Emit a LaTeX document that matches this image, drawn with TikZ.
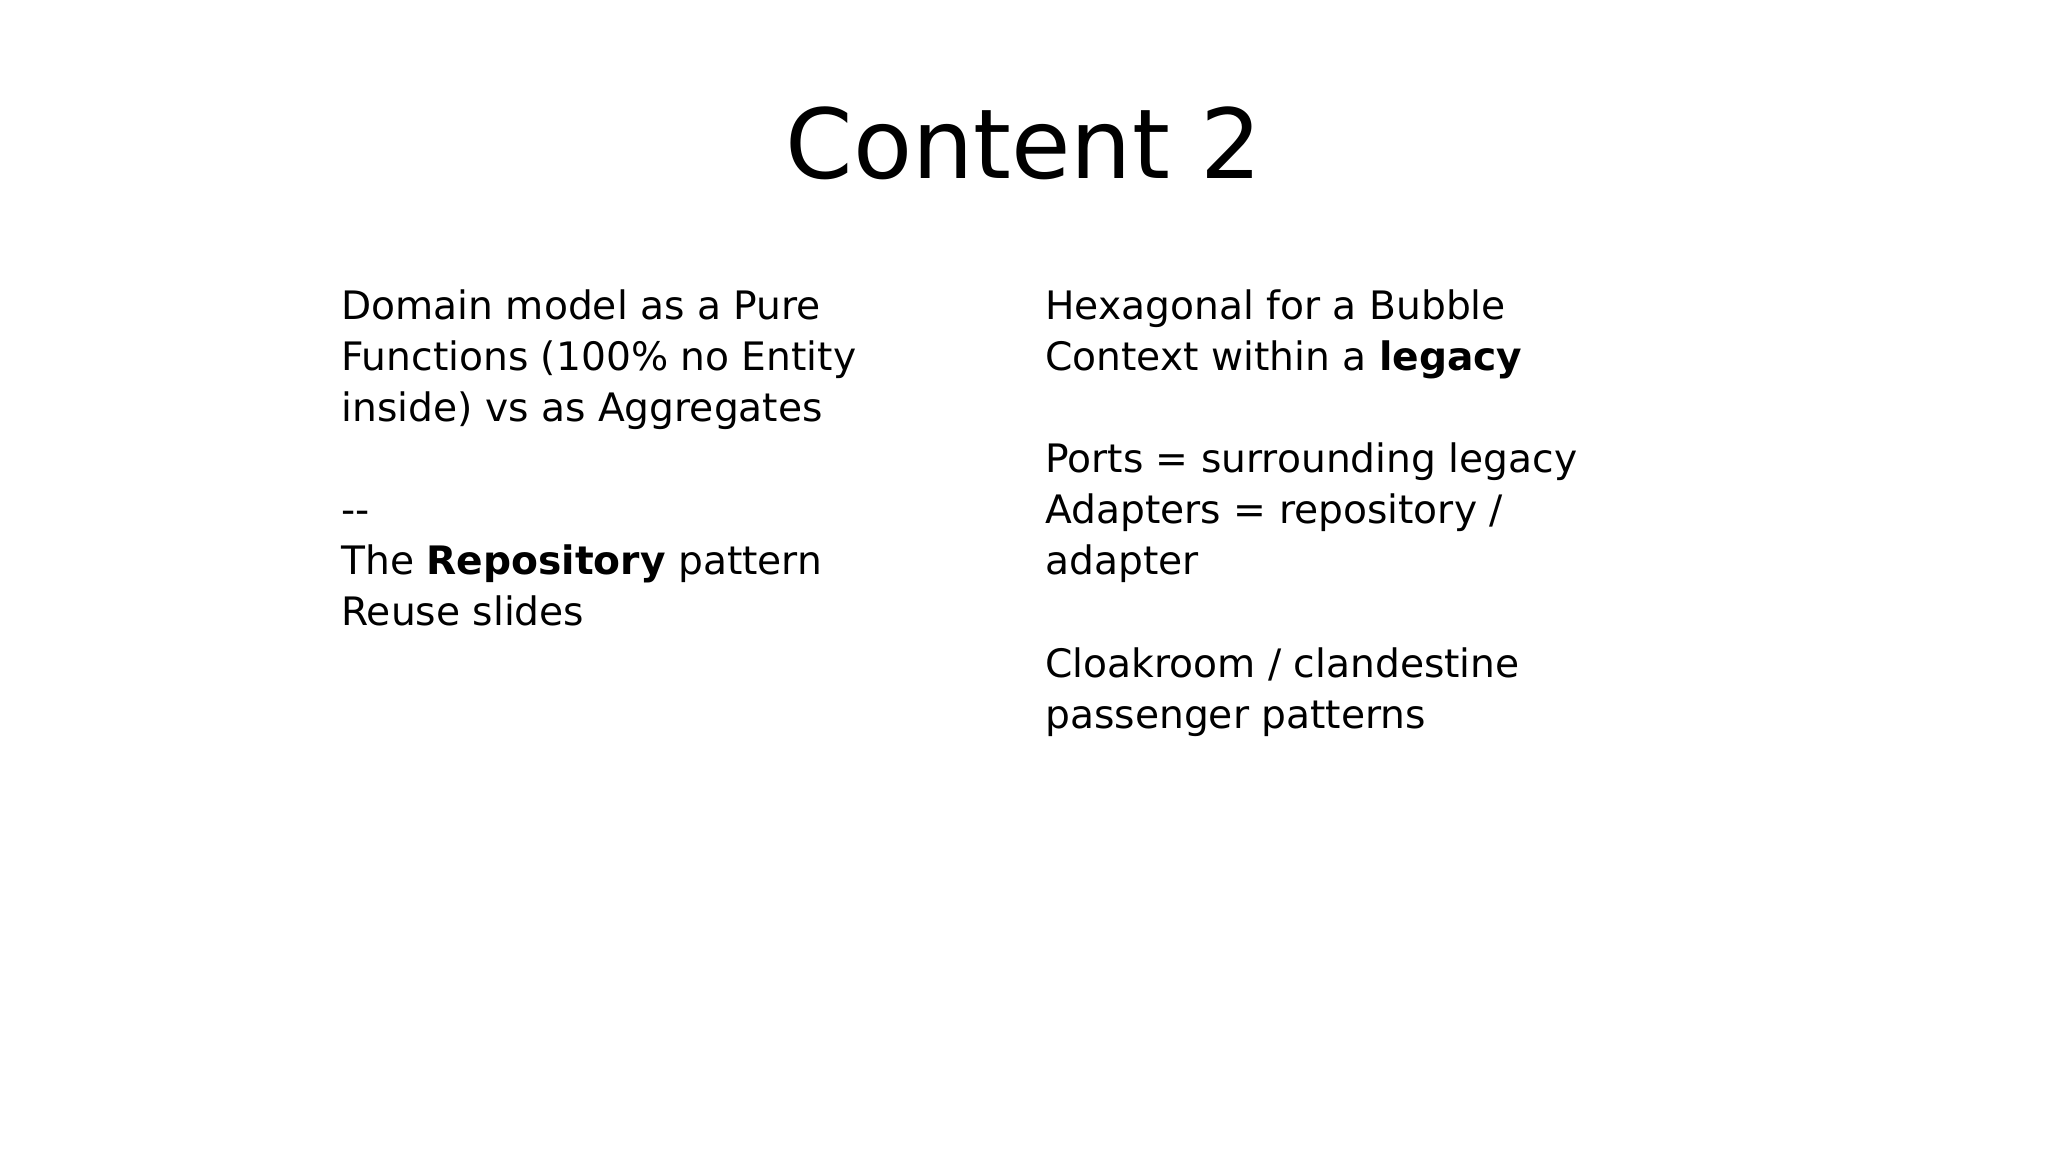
\documentclass[tikz,border=0pt]{standalone}
\usepackage{fontspec}
\setmainfont{DejaVu Sans}
\begin{document}
\begin{tikzpicture}[x=0.5pt,y=-0.5pt,
  body/.style={anchor=base west,inner sep=0pt,font=\fontsize{15}{19}\selectfont},
  title/.style={anchor=base,inner sep=0pt,font=\fontsize{37}{44}\selectfont}]
\useasboundingbox (0,0) rectangle (1568,882);
\node[title] (t) at (784,137) {Content 2};
\node[body] (a1) at (261,245) {Domain model as a Pure};
\node[body] (a2) at (261,284) {Functions (100\% no Entity};
\node[body] (a3) at (261,323) {inside) vs as Aggregates};
\node[body] (a4) at (261,401) {-\/-};
\node[body] (a5) at (261,440) {The \textbf{Repository} pattern};
\node[body] (a6) at (261,479) {Reuse slides};
\node[body] (b1) at (800,245) {Hexagonal for a Bubble};
\node[body] (b2) at (800,284) {Context within a \textbf{legacy}};
\node[body] (b3) at (800,362) {Ports = surrounding legacy};
\node[body] (b4) at (800,401) {Adapters = repository /};
\node[body] (b5) at (800,440) {adapter};
\node[body] (b6) at (800,519) {Cloakroom / clandestine};
\node[body] (b7) at (800,558) {passenger patterns};
\end{tikzpicture}
\end{document}
